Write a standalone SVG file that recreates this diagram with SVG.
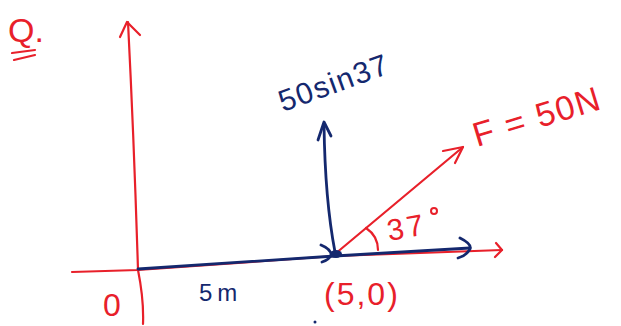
<svg xmlns="http://www.w3.org/2000/svg" width="621" height="326" viewBox="0 0 621 326">
<style>
.r{stroke:#e8202a;fill:none;stroke-width:2.2;stroke-linecap:round;stroke-linejoin:round}
.b{stroke:#14286e;fill:none;stroke-width:2.8;stroke-linecap:round;stroke-linejoin:round}
.tr{fill:#e8202a;font-family:"Liberation Sans",Arial,sans-serif}
.tb{fill:#14286e;font-family:"Liberation Sans",Arial,sans-serif}
</style>
<rect width="621" height="326" fill="#fff"/>
<g id="connectors">
<path class="r" d="M72,272 L138,270 L335,256 L502,250"/>
<path class="r" d="M496,243 L502,250 L495,257"/>
<path class="r" d="M128,22 Q134,140 138,270 Q144,300 143,324"/>
<path class="r" d="M120,37 L127,22 L140,35"/>
<path class="r" d="M335,254 L463,147"/>
<path class="r" d="M443,151 L463,147 L455,163"/>
<path class="r" d="M366,228 Q378,236 378,250"/>
<path class="b" d="M138,269 L335,256 L470,248"/>
<path class="b" d="M460,238 Q472,244 470,249 Q466,256 458,258"/>
<path class="b" d="M321,245 Q331,249 331,255 Q329,260 322,262"/>
<path class="b" d="M335,252 Q325,200 324,124"/>
<path class="b" d="M318,140 L324,122 L331,136"/>
<ellipse cx="336" cy="254" rx="6" ry="4" fill="#14286e"/>
<circle cx="315" cy="322" r="1.5" fill="#14286e"/>
</g>
<g id="q">
<text class="tr" x="8" y="42" font-size="34">Q.</text>
<path class="r" d="M12,53 L35,50 M14,60 L35,55"/>
</g>
<g id="label-50sin37"><text class="tb" x="283" y="112" font-size="30" letter-spacing="1.5" transform="rotate(-20 283 112)">50sin37</text></g>
<g id="label-F"><text class="tr" x="477" y="147" font-size="34" letter-spacing="1.5" transform="rotate(-17 477 147)">F = 50N</text></g>
<g id="label-37"><text class="tr" x="389" y="241" font-size="30" letter-spacing="3" transform="rotate(-10 389 241)">37</text><circle class="r" cx="434" cy="211" r="3" style="stroke-width:2"/></g>
<g id="label-50"><text class="tr" x="324" y="305" font-size="32" letter-spacing="2">(5,0)</text></g>
<g id="label-5m"><text class="tb" x="199" y="301" font-size="24" letter-spacing="5">5m</text></g>
<g id="label-0"><text class="tr" x="103" y="316" font-size="32">0</text></g>
</svg>
